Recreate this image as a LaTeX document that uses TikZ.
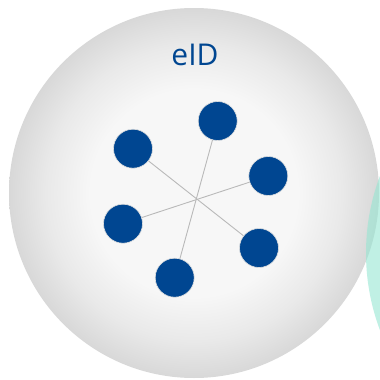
\documentclass[tikz,border=0pt]{standalone}
\usepackage{fontspec}
\setmainfont{Open Sans}
\definecolor{eidblue}{RGB}{0,70,145}
\definecolor{ballin}{RGB}{247,247,247}
\definecolor{ballout}{RGB}{216,216,216}
\definecolor{tealc}{RGB}{150,230,210}
\definecolor{linkc}{RGB}{185,185,185}
\pgfdeclareradialshading{ballshade}{\pgfpoint{0bp}{0bp}}{color(0bp)=(ballin); color(14bp)=(ballin); color(20bp)=(ballin!55!ballout); color(25bp)=(ballout); color(50bp)=(ballout)}
\tikzset{
  dot/.style={circle, fill=eidblue, draw=black!12, line width=0.6pt, minimum size=39pt, inner sep=0pt},
  link/.style={draw=linkc, line width=0.9pt},
  title/.style={text=eidblue, font=\fontsize{30}{36}\selectfont}
}
\begin{document}
\begin{tikzpicture}[x=1pt,y=-1pt]
\useasboundingbox (0,0) rectangle (380,380);
\clip (0,0) rectangle (380,380);
\fill[white] (0,0) rectangle (380,380);
\shade[shading=ballshade] (194,193) circle (185);
\fill[tealc, opacity=0.6] (585,253) circle (219);
\node[title] (t) at (195,55) {eID};
\coordinate (c) at (198.3,197.7);
\node[dot] (d1) at (217.7,121) {};
\node[dot] (d2) at (133,148.7) {};
\node[dot] (d3) at (268.3,176) {};
\node[dot] (d4) at (123,223.7) {};
\node[dot] (d5) at (259,248) {};
\node[dot] (d6) at (174.7,277.7) {};
\draw[link] (d1) -- (d6);
\draw[link] (d2) -- (d5);
\draw[link] (d3) -- (d4);
\end{tikzpicture}
\end{document}
